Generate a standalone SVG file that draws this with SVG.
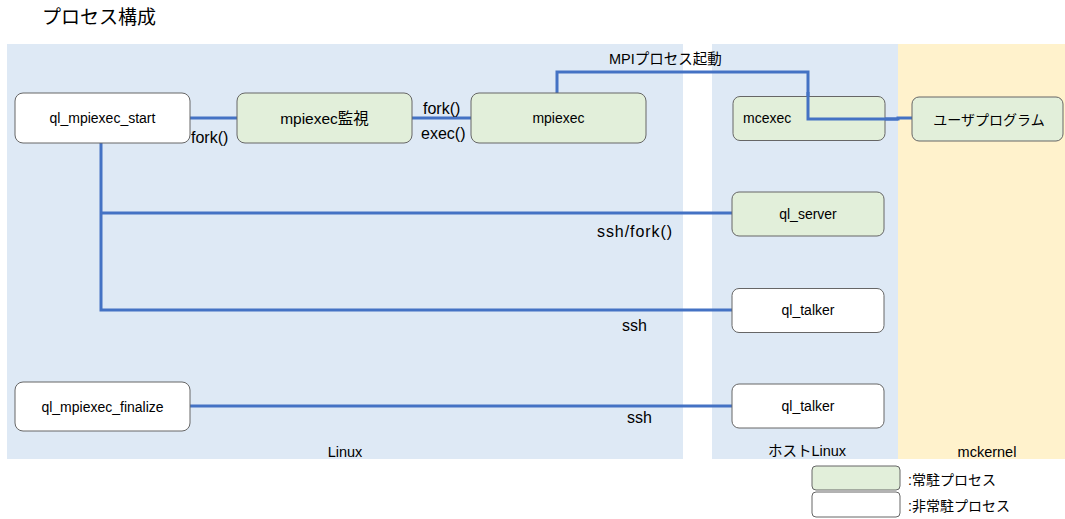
<svg xmlns="http://www.w3.org/2000/svg" width="1065" height="519" viewBox="0 0 1065 519">
  <style>
    text { font-family: "Liberation Sans", "Noto Sans CJK JP", sans-serif; fill: #000; }
    .area-linux { fill: #dee9f5; }
    .area-kernel { fill: #fff2cc; }
    .node { stroke: #666; stroke-width: 1; }
    .resident { fill: #e2efda; }
    .transient { fill: #fff; }
    .label { font-size: 14px; text-anchor: middle; }
    .edge { fill: none; stroke: #4472c4; stroke-width: 3; }
    .elabel { font-size: 16px; }
    .area-label { font-size: 14.5px; text-anchor: middle; }
  </style>

  <text x="42" y="24" style="font-size:19px">プロセス構成</text>

  <!-- Execution areas -->
  <g id="areas">
    <rect class="area-linux" x="7" y="44" width="676" height="415"/>
    <rect class="area-linux" x="712" y="44" width="186" height="415"/>
    <rect class="area-kernel" x="898" y="44" width="167" height="415"/>
    <text class="area-label" x="345" y="457">Linux</text>
    <text class="area-label" x="807" y="456">ホストLinux</text>
    <text class="area-label" x="987" y="457">mckernel</text>
  </g>

  <!-- Connectors -->
  <g id="connectors">
    <path class="edge" d="M190 118 H237"/>
    <path class="edge" d="M412 118 H471"/>
    <path class="edge" d="M557 93 V72 H808 V119 H898 V118 H912"/>
    <path class="edge" d="M101 143 V310 H732"/>
    <path class="edge" d="M101 213 H732"/>
    <path class="edge" d="M190 406 H732"/>
    <text class="elabel" x="191" y="143">fork()</text>
    <text class="elabel" x="423" y="114">fork()</text>
    <text class="elabel" x="421" y="139">exec()</text>
    <text class="elabel" x="609" y="64" style="font-size:14.5px">MPIプロセス起動</text>
    <text class="elabel" x="597" y="237" textLength="75">ssh/fork()</text>
    <text class="elabel" x="622" y="331">ssh</text>
    <text class="elabel" x="627" y="423">ssh</text>
  </g>

  <g id="ql_mpiexec_start">
    <rect class="node transient" x="15" y="93" width="175" height="50" rx="8"/>
    <text class="label" x="102.5" y="123">ql_mpiexec_start</text>
  </g>
  <g id="mpiexec_monitor">
    <rect class="node resident" x="237" y="93" width="175" height="50" rx="8"/>
    <text class="label" x="324.5" y="124" style="font-size:15.5px">mpiexec監視</text>
  </g>
  <g id="mpiexec">
    <rect class="node resident" x="471" y="93" width="175" height="50" rx="8"/>
    <text class="label" x="558.5" y="123">mpiexec</text>
  </g>
  <g id="mcexec">
    <rect class="node resident" x="733" y="96.5" width="152" height="44" rx="7"/>
    <text x="743" y="123" style="font-size:14px">mcexec</text>
  </g>
  <!-- mcexec is crossed by the launch line -->
  <g id="mcexec_launch_overlay">
    <path class="edge" d="M808 92 V119 H898"/>
  </g>
  <g id="user_program">
    <rect class="node resident" x="912" y="97" width="151" height="44" rx="7"/>
    <text class="label" x="989" y="125">ユーザプログラム</text>
  </g>
  <g id="ql_server">
    <rect class="node resident" x="732" y="192" width="152" height="44" rx="7"/>
    <text class="label" x="808" y="219">ql_server</text>
  </g>
  <g id="ql_talker_1">
    <rect class="node transient" x="732" y="288.5" width="152" height="44" rx="7"/>
    <text class="label" x="808" y="315">ql_talker</text>
  </g>
  <g id="ql_talker_2">
    <rect class="node transient" x="732" y="384" width="152" height="44" rx="7"/>
    <text class="label" x="808" y="411">ql_talker</text>
  </g>
  <g id="ql_mpiexec_finalize">
    <rect class="node transient" x="15" y="382" width="175" height="49" rx="8"/>
    <text class="label" x="102.5" y="412">ql_mpiexec_finalize</text>
  </g>

  <!-- Legend -->
  <g id="legend">
    <rect class="node resident" x="812" y="466" width="88" height="24" rx="4"/>
    <rect class="node transient" x="812" y="492" width="88" height="25" rx="4"/>
    <text x="908" y="485" style="font-size:14px">:常駐プロセス</text>
    <text x="908" y="511" style="font-size:14px">:非常駐プロセス</text>
  </g>
</svg>
